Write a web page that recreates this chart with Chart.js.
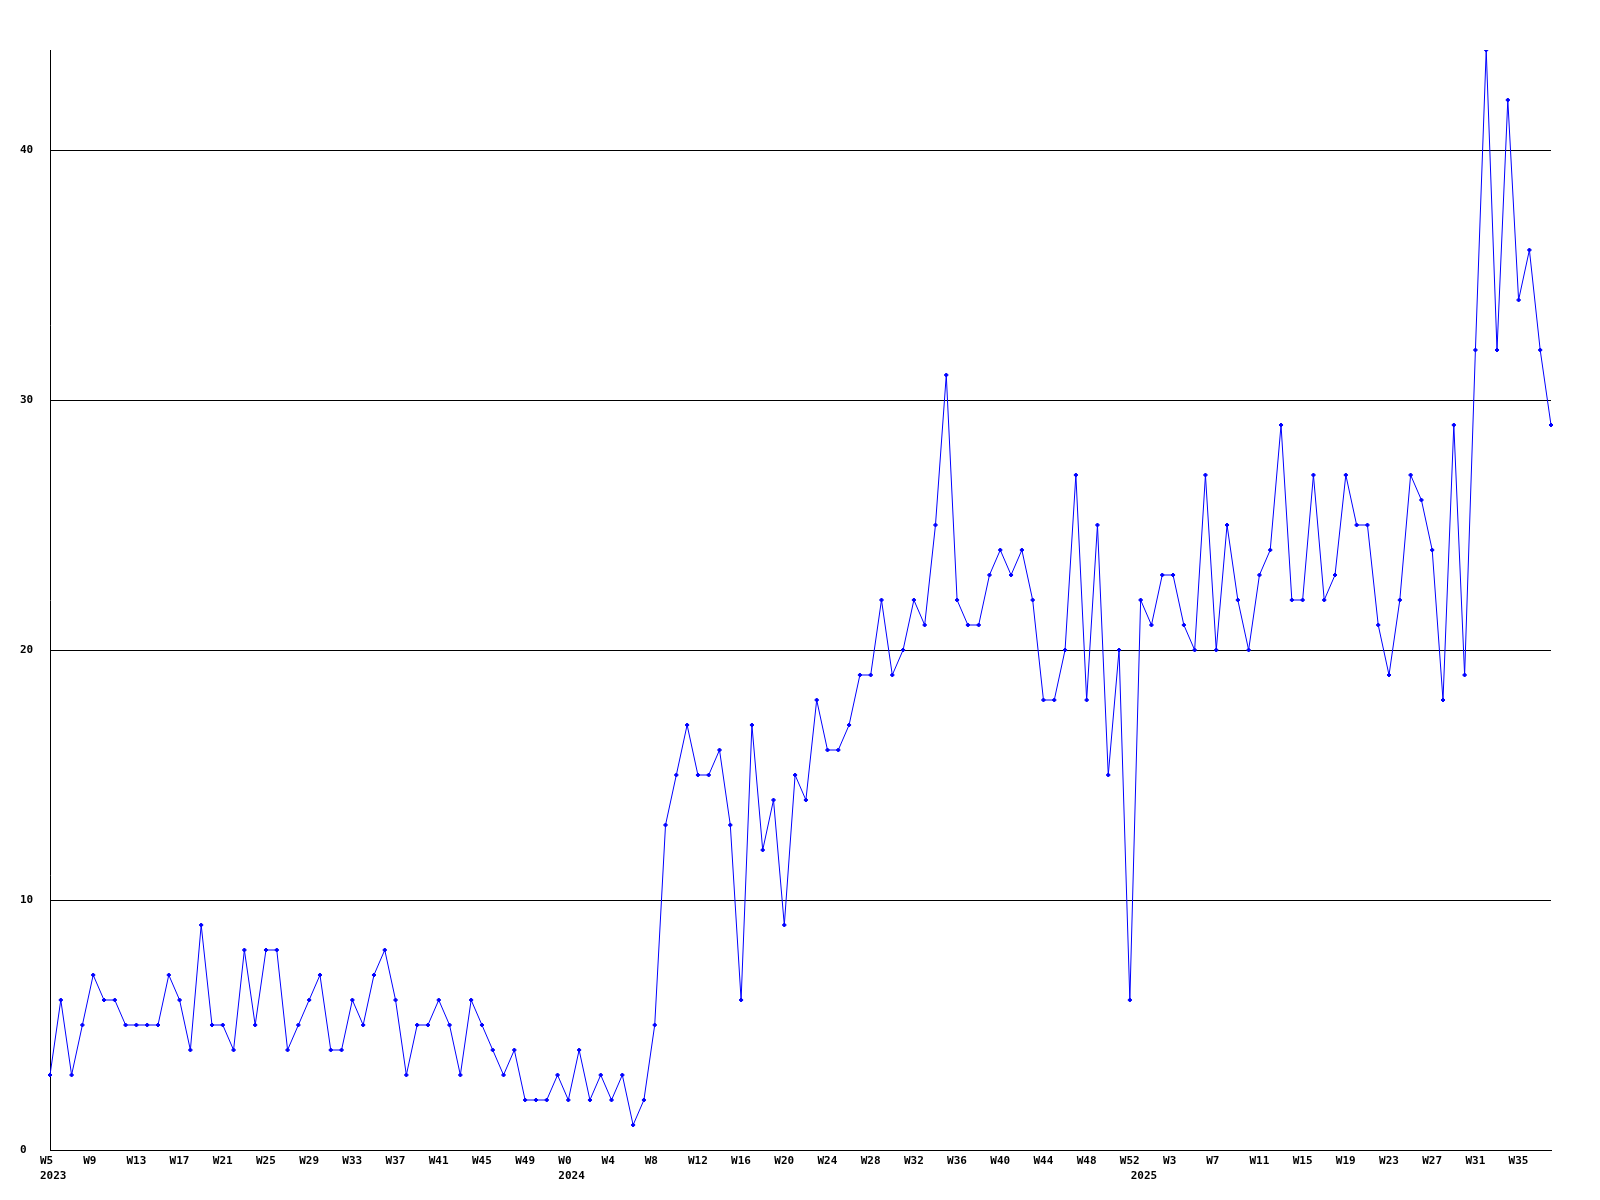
<!DOCTYPE html>
<html>
<head>
<meta charset="utf-8">
<title>Weekly count</title>
<script src="https://cdn.jsdelivr.net/npm/chart.js@4.4.1/dist/chart.umd.min.js"></script>
<style>
  html, body { margin: 0; padding: 0; background: #fff; }
  canvas { display: block; }
</style>
</head>
<body>
<canvas id="weeklyChart" width="1600" height="1200"></canvas>
<script>
// Week labels per year
const years = ["2023", "2024", "2025"];
const weeks2023 = ["W5","W6","W7","W8","W9","W10","W11","W12","W13","W14","W15","W16","W17","W18","W19","W20",
  "W21","W22","W23","W24","W25","W26","W27","W28","W29","W30","W31","W32","W33","W34","W35","W36",
  "W37","W38","W39","W40","W41","W42","W43","W44","W45","W46","W47","W48","W49","W50","W51","W52"];
const weeks2024 = ["W0","W1","W2","W3","W4","W5","W6","W7","W8","W9","W10","W11","W12","W13","W14","W15","W16",
  "W17","W18","W19","W20","W21","W22","W23","W24","W25","W26","W27","W28","W29","W30","W31","W32",
  "W33","W34","W35","W36","W37","W38","W39","W40","W41","W42","W43","W44","W45","W46","W47","W48",
  "W49","W50","W51","W52"];
const weeks2025 = ["W0","W1","W2","W3","W4","W5","W6","W7","W8","W9","W10","W11","W12","W13","W14","W15","W16",
  "W17","W18","W19","W20","W21","W22","W23","W24","W25","W26","W27","W28","W29","W30","W31","W32",
  "W33","W34","W35","W36","W37","W38"];

// Weekly values
const counts2023 = [3,6,3,5,7,6,6,5,5,5,5,7,6,4,9,5,5,4,8,5,8,8,4,5,
  6,7,4,4,6,5,7,8,6,3,5,5,6,5,3,6,5,4,3,4,2,2,2,3];
const counts2024 = [2,4,2,3,2,3,1,2,5,13,15,17,15,15,16,13,6,17,12,14,9,15,14,18,16,16,17,
  19,19,22,19,20,22,21,25,31,22,21,21,23,24,23,24,22,18,18,20,27,18,25,15,20,6];
const counts2025 = [22,21,23,23,21,20,27,20,25,22,20,23,24,29,22,22,27,22,23,27,25,25,21,
  19,22,27,26,24,18,29,19,32,44,32,42,34,36,32,29];

const yTicks = [0, 10, 20, 30, 40];
const yMax = 44;

// Build the category list and remember where each year starts
const labels = [];
const yearStart = {};
[weeks2023, weeks2024, weeks2025].forEach((weeks, i) => {
  yearStart[labels.length] = years[i];
  weeks.forEach(w => labels.push(w));
});
const values = counts2023.concat(counts2024, counts2025);

const tickFont = { family: '"DejaVu Sans Mono", monospace', size: 11, weight: "bold", lineHeight: 1.35 };

const ctx = document.getElementById("weeklyChart").getContext("2d");
new Chart(ctx, {
  type: "line",
  data: {
    labels,
    datasets: [{
      data: values,
      borderColor: "#0000ff",
      backgroundColor: "#0000ff",
      borderWidth: 1,
      tension: 0,
      fill: false,
      pointStyle: "rectRot",
      pointRadius: 2,
      pointBorderWidth: 1,
      pointHoverRadius: 2
    }]
  },
  options: {
    responsive: false,
    animation: false,
    layout: { padding: { left: 20, top: 50, right: 49, bottom: 0 } },
    plugins: {
      legend: { display: false },
      tooltip: { enabled: false }
    },
    scales: {
      x: {
        offset: false,
        grid: { color: "rgba(0,0,0,0)", drawTicks: false },
        border: { display: true, color: "#000", width: 1 },
        afterFit: s => { s.height = 50; },
        ticks: {
          autoSkip: false,
          maxRotation: 0,
          minRotation: 0,
          align: "start",
          labelOffset: -10,
          padding: 4,
          color: "#000",
          font: tickFont,
          callback: function (value, index) {
            const week = index % 4 === 0 ? labels[index] : "";
            const year = yearStart[index];
            if (year) return [week, year];
            return week;
          }
        }
      },
      y: {
        min: 0,
        max: yMax,
        afterFit: s => { s.width = 30; },
        afterBuildTicks: s => { s.ticks = yTicks.map(v => ({ value: v })); },
        grid: { color: "#000", lineWidth: 1, drawTicks: false },
        border: { display: true, color: "#000", width: 1 },
        ticks: {
          crossAlign: "far",
          padding: 17,
          color: "#000",
          font: tickFont
        }
      }
    }
  }
});
</script>
</body>
</html>
